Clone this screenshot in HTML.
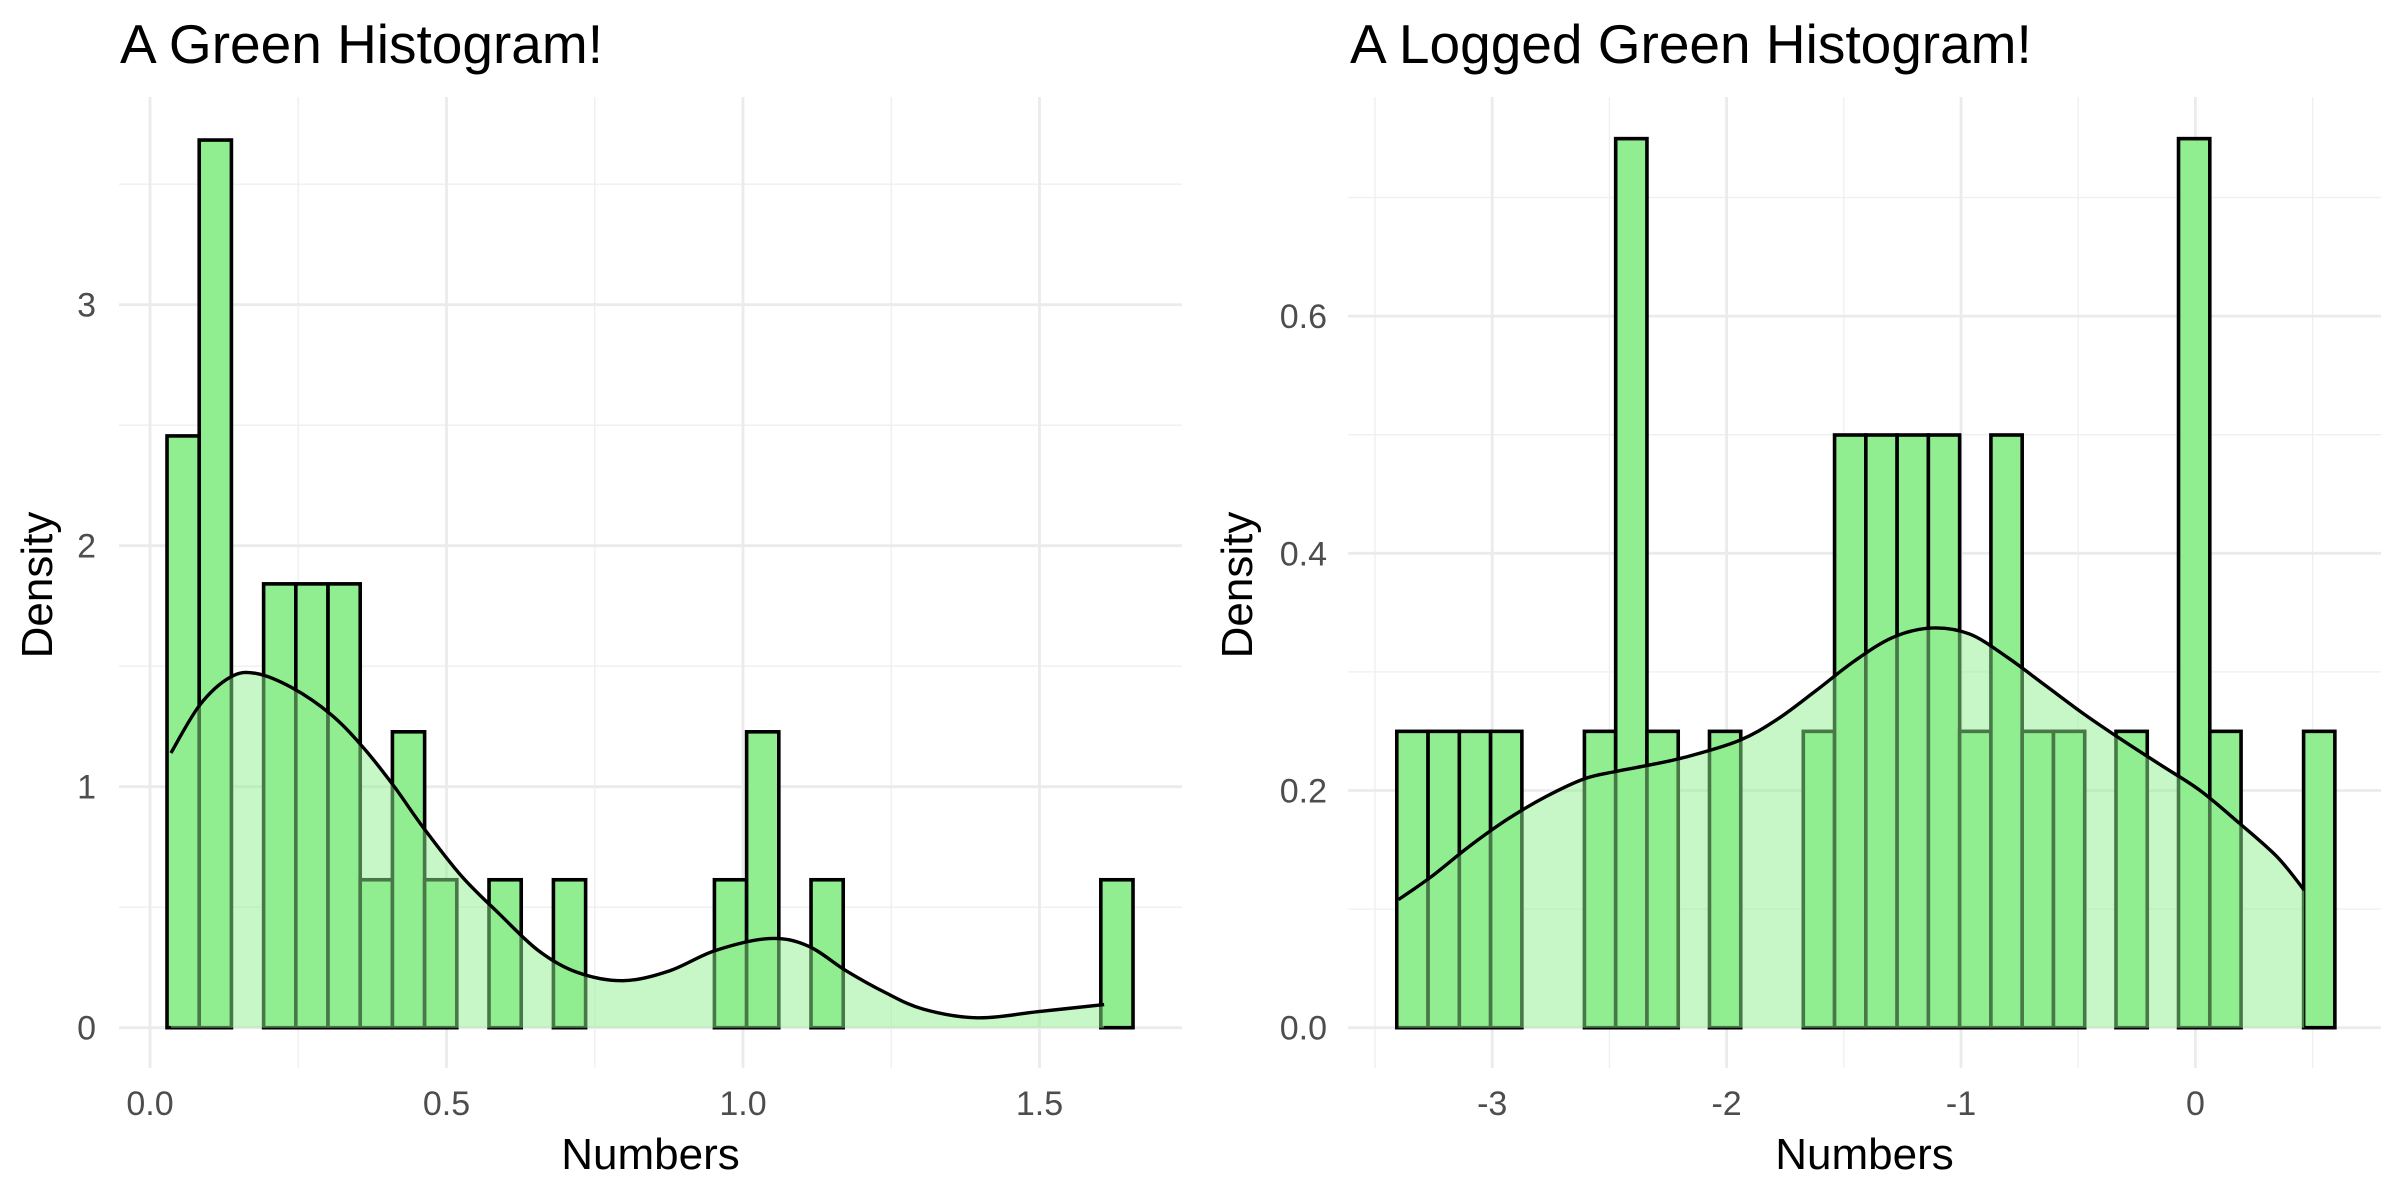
<!DOCTYPE html>
<html><head><meta charset="utf-8"><style>
html,body{margin:0;padding:0;background:#fff;}
svg{display:block;font-family:"Liberation Sans",Arial,sans-serif;}
</style></head><body>
<svg id="chart" width="2400" height="1200" viewBox="0 0 2400 1200" xmlns="http://www.w3.org/2000/svg"></svg>
<script>
// Left panel data
const leftBinStart = 0.0287;
const leftBinWidth = 0.0543;
const leftCounts = [4,6,0,3,3,3,1,2,1,0,1,0,1,0,0,0,0,1,2,0,1,0,0,0,0,0,0,0,0,1];
const leftDensX = [0.0353,0.0843,0.136,0.179,0.240,0.305,0.357,0.409,0.461,0.525,0.590,0.655,0.720,0.798,0.876,0.953,1.044,1.109,1.174,1.239,1.304,1.395,1.499,1.609];
const leftDensY = [1.14,1.34,1.455,1.47,1.41,1.30,1.17,1.01,0.83,0.63,0.47,0.32,0.23,0.195,0.236,0.32,0.37,0.34,0.236,0.147,0.077,0.041,0.067,0.096];
const leftXTicks = [0,0.5,1.0,1.5];
const leftXTickLabels = ["0.0","0.5","1.0","1.5"];
const leftYTicks = [0,1,2,3];
const leftYTickLabels = ["0","1","2","3"];
// Right panel data
const rightBinStart = -3.407;
const rightBinWidth = 0.1334;
const rightCounts = [1,1,1,1,0,0,1,3,1,0,1,0,0,1,2,2,2,2,1,2,1,1,0,1,0,3,1,0,0,1];
const rightDensX = [-3.400,-3.262,-3.097,-2.933,-2.769,-2.605,-2.474,-2.342,-2.178,-1.948,-1.784,-1.620,-1.456,-1.292,-1.128,-0.964,-0.800,-0.636,-0.472,-0.308,-0.144,0.020,0.184,0.349,0.464];
const rightDensY = [0.108,0.127,0.153,0.176,0.195,0.21,0.216,0.221,0.228,0.242,0.26,0.284,0.309,0.329,0.337,0.332,0.312,0.288,0.264,0.242,0.221,0.2,0.173,0.144,0.116];
const rightXTicks = [-3,-2,-1,0];
const rightXTickLabels = ["-3","-2","-1","0"];
const rightYTicks = [0,0.2,0.4,0.6];
const rightYTickLabels = ["0.0","0.2","0.4","0.6"];

const NS="http://www.w3.org/2000/svg";
const svg=document.getElementById('chart');
function mk(tag,attrs,parent){const e=document.createElementNS(NS,tag);for(const k in attrs)e.setAttribute(k,attrs[k]);(parent||svg).appendChild(e);return e;}
function smooth(pts){
  let d='M'+pts[0][0]+','+pts[0][1];
  for(let i=0;i<pts.length-1;i++){
    const p0=pts[Math.max(i-1,0)],p1=pts[i],p2=pts[i+1],p3=pts[Math.min(i+2,pts.length-1)];
    const c1x=p1[0]+(p2[0]-p0[0])/6,c1y=p1[1]+(p2[1]-p0[1])/6;
    const c2x=p2[0]-(p3[0]-p1[0])/6,c2y=p2[1]-(p3[1]-p1[1])/6;
    d+=' C'+c1x+','+c1y+' '+c2x+','+c2y+' '+p2[0]+','+p2[1];
  }
  return d;
}

function panel(o){
  const g=mk('g',{});
  
  
  const sx=v=>o.x0+v*o.xs, sy=v=>o.y0-v*o.ys;
  const n=o.counts.reduce((a,b)=>a+b,0);
  o.xMinor.forEach(v=>{const l=mk('line',{x1:sx(v),x2:sx(v),y1:o.top,y2:o.bot,stroke:'#efefef','stroke-width':1.3},g);
    });
  o.yMinor.forEach(v=>{const l=mk('line',{x1:o.left,x2:o.right,y1:sy(v),y2:sy(v),stroke:'#efefef','stroke-width':1.3},g);
    });
  o.xTicks.forEach((v,i)=>{const l=mk('line',{x1:sx(v),x2:sx(v),y1:o.top,y2:o.bot,stroke:'#ebebeb','stroke-width':2.8},g);
    
    const t=mk('text',{x:sx(v),y:1115,'text-anchor':'middle','font-size':34,fill:'#4d4d4d'},g);t.textContent=o.xLabels[i];
    });
  o.yTicks.forEach((v,i)=>{const l=mk('line',{x1:o.left,x2:o.right,y1:sy(v),y2:sy(v),stroke:'#ebebeb','stroke-width':2.8},g);
    
    const t=mk('text',{x:o.ylabX,y:sy(v)+12,'text-anchor':'end','font-size':34,fill:'#4d4d4d'},g);t.textContent=o.yLabels[i];
    });
  o.counts.forEach((c,i)=>{const d=c/(n*o.bw);const xa=sx(o.bs+i*o.bw),xb=sx(o.bs+(i+1)*o.bw);
    const r=mk('rect',{x:xa,y:sy(d),width:xb-xa,height:sy(0)-sy(d),fill:'#90ee90',stroke:'#000','stroke-width':3.6},g);
    });
  const pts=o.dx.map((v,i)=>[sx(v),sy(o.dy[i])]);
  const curve=smooth(pts);
  const p=curve+' L'+sx(o.dx[o.dx.length-1])+','+sy(0)+' L'+sx(o.dx[0])+','+sy(0)+' Z';
  const a=mk('path',{d:p,fill:'#90ee90','fill-opacity':0.5,stroke:'none'},g);
  
  const ln=mk('path',{d:curve,fill:'none',stroke:'#000','stroke-width':3.4,'stroke-linejoin':'round'},g);
  
  const tt=mk('text',{x:o.titleX,y:63,'font-size':55,fill:'#000'},g);tt.textContent=o.title;
  
  const xt=mk('text',{x:(o.left+o.right)/2,y:1169,'text-anchor':'middle','font-size':44,fill:'#000'},g);xt.textContent='Numbers';
  
  const yt=mk('text',{x:o.ytX,y:585,'text-anchor':'middle','font-size':44,fill:'#000',transform:'rotate(-90 '+o.ytX+' 585)'},g);yt.textContent='Density';
  
}
panel({name:'green-histogram-panel',x0:150,xs:593,y0:1027.7,ys:241,top:97,bot:1068,left:119,right:1182,
  counts:leftCounts,bs:leftBinStart,bw:leftBinWidth,dx:leftDensX,dy:leftDensY,
  xTicks:leftXTicks,xLabels:leftXTickLabels,yTicks:leftYTicks,yLabels:leftYTickLabels,
  xMinor:[0.25,0.75,1.25],yMinor:[0.5,1.5,2.5,3.5],ylabX:96,ytX:52,titleX:120,title:'A Green Histogram!'});
panel({name:'logged-histogram-panel',x0:2195.4,xs:234.4,y0:1027.7,ys:1186,top:97,bot:1068,left:1348,right:2381,
  counts:rightCounts,bs:rightBinStart,bw:rightBinWidth,dx:rightDensX,dy:rightDensY,
  xTicks:rightXTicks,xLabels:rightXTickLabels,yTicks:rightYTicks,yLabels:rightYTickLabels,
  xMinor:[-3.5,-2.5,-1.5,-0.5,0.5],yMinor:[0.1,0.3,0.5,0.7],ylabX:1327,ytX:1252,titleX:1350,title:'A Logged Green Histogram!'});
</script>
</body></html>
